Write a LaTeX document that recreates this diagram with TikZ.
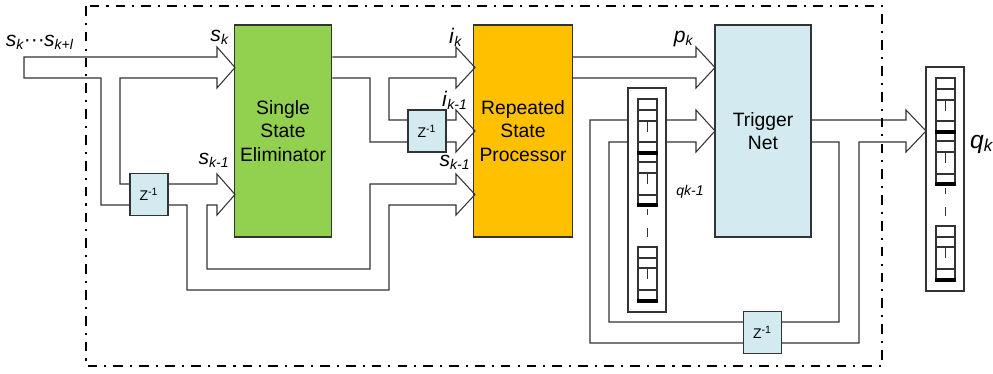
\documentclass[tikz,border=0pt]{standalone}
\usepackage{fontspec}
\setmainfont{Liberation Sans}
\usetikzlibrary{positioning}
\definecolor{elimgreen}{HTML}{92D050}
\definecolor{procorange}{HTML}{FFC000}
\definecolor{netblue}{HTML}{D2EAF0}
\definecolor{linegray}{HTML}{333333}
\newcommand{\sig}[2]{\textit{#1}\textsubscript{\textit{#2}}}
% one shift register stack, inner column left edge #1, top #2
\newcommand{\qstack}[2]{%
  \begin{scope}[shift={(#1,#2)}]
    \draw[band, fill=white] (-10,-11) rectangle (28,213);
    \draw[band] (0,0) rectangle (19,106);
    \foreach \yy in {11,22,43,63,74,96} \draw[band] (0,\yy) -- (19,\yy);
    \draw[band] (9.5,22) -- (9.5,33) (9.5,74) -- (9.5,85);
    \draw[band] (9.5,110) -- (9.5,116) (9.5,129) -- (9.5,138);
    \draw[band] (0,148) rectangle (19,202);
    \foreach \yy in {159,169,191} \draw[band] (0,\yy) -- (19,\yy);
    \draw[band] (9.5,169) -- (9.5,180);
    \foreach \yy in {54,106,202} \draw[black, line width=1.8pt] (-1,\yy) -- (20,\yy);
  \end{scope}}

\begin{document}
\begin{tikzpicture}[x=0.02cm, y=-0.02cm,
    band/.style={draw=linegray, line width=0.6pt},
    block/.style={draw=linegray, line width=0.6pt, minimum width=1.92cm,
                  minimum height=4.24cm, align=center,
                  font=\fontsize{11}{13.5}\selectfont},
    delay/.style={draw=linegray, line width=0.6pt, fill=netblue,
                  minimum width=0.76cm, minimum height=0.84cm,
                  inner sep=0pt, font=\fontsize{8}{9}\selectfont},
    lbl/.style={inner sep=0pt, font=\fontsize{12}{14}\selectfont}]
  \useasboundingbox (0,0) rectangle (993,373);

  % main blocks
  \node[block, fill=elimgreen] (elim) at (283,131) {Single\\State\\Eliminator};
  \node[block, fill=procorange] (proc) at (523,131) {Repeated\\State\\Processor};
  \node[block, fill=netblue] (trig) at (763,131) {Trigger\\Net};

  % delay units
  \node[delay] (zin) at (149,194.5) {Z\textsuperscript{-1}};
  \node[delay] (zmid) at (427,131) {Z\textsuperscript{-1}};
  \node[delay] (zback) at (762.5,332.5) {Z\textsuperscript{-1}};

  % input band, split to the delay
  \draw[band] (zin.west |- 0,205) -- (101,205) -- (101,78) -- (24,78) -- (24,57)
    -- (217,57) -- (217,47) -- (235,67.5) -- (217,88) -- (217,78)
    -- (120,78) -- (120,184) -- (zin.west |- 0,184);
  % delayed input to both blocks
  \draw[band] (zin.east |- 0,184) -- (217,184) -- (217,174) -- (235,194.5)
    -- (217,215) -- (217,205) -- (207,205) -- (207,269) -- (370,269)
    -- (370,184) -- (456,184) -- (456,174) -- (475,194.5) -- (456,215)
    -- (456,205) -- (389,205) -- (389,290) -- (187,290) -- (187,205)
    -- (zin.east |- 0,205);

  % eliminator output
  \draw[band] (elim.east |- 0,57) -- (456,57) -- (456,47) -- (475,67.5)
    -- (456,88) -- (456,78) -- (389,78) -- (389,120) -- (zmid.west |- 0,120)
    (elim.east |- 0,78) -- (370,78) -- (370,142) -- (zmid.west |- 0,142);
  \draw[band] (zmid.east |- 0,120) -- (456,120) -- (456,110) -- (475,131)
    -- (456,152) -- (456,142) -- (zmid.east |- 0,142);

  % processor output
  \draw[band] (proc.east |- 0,57) -- (696,57) -- (696,47) -- (715,67.5)
    -- (696,88) -- (696,78) -- (proc.east |- 0,78);

  % feedback into trigger net
  \draw[band] (zback.west |- 0,343) -- (590,343) -- (590,120) -- (696,120)
    -- (696,110) -- (715,131) -- (696,152) -- (696,142) -- (609,142)
    -- (609,322) -- (zback.west |- 0,322);
  % trigger net output
  \draw[band] (trig.east |- 0,120) -- (906,120) -- (906,110) -- (926,131)
    -- (906,152) -- (906,142) -- (859,142) -- (859,343) -- (zback.east |- 0,343)
    (trig.east |- 0,142) -- (839,142) -- (839,322) -- (zback.east |- 0,322);

  % register stacks
  \qstack{638}{99}
  \qstack{936}{78}

  % labels
  \node[lbl] (lin) at (40,42) {\sig{s}{k}\kern-0.5pt···\kern-0.5pt\sig{s}{k+l}};
  \node[lbl] (ls) at (220,37) {\sig{s}{k}};
  \node[lbl] (lsd) at (214,160) {\sig{s}{k-1}};
  \node[lbl] (li) at (456,37) {\sig{i}{k}};
  \node[lbl] (lid) at (455,100) {\sig{i}{k-1}};
  \node[lbl] (lsd2) at (455,162) {\sig{s}{k-1}};
  \node[lbl] (lp) at (684,39) {\sig{p}{k}};
  \node[lbl, font=\fontsize{8}{9}\selectfont\itshape] (lqd) at (690,192) {qk-1};
  \node[lbl, font=\fontsize{14}{16}\selectfont] (lq) at (982,144) {\sig{q}{k}};

  % system border
  \draw[black, line width=1.2pt, dash pattern=on 5.5pt off 4pt on 1.2pt off 4pt]
    (86,6) rectangle (882,366);
\end{tikzpicture}
\end{document}
